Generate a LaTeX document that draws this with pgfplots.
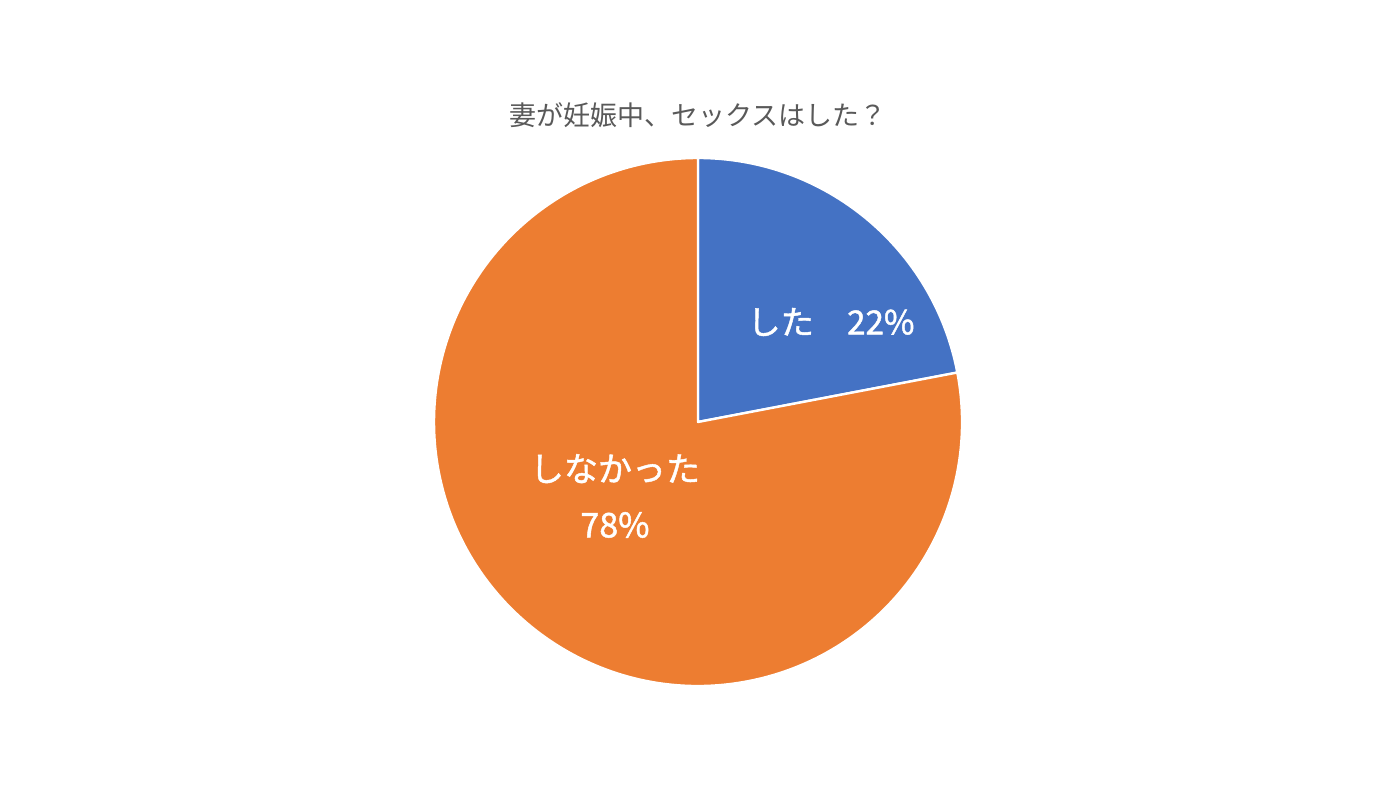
\documentclass[border=0pt]{standalone}
\usepackage{pgfplots}
\pgfplotsset{compat=1.18}
\usepackage{pgfplotstable}
\usepackage{fontspec}
\setmainfont{Noto Sans CJK JP}
\newfontfamily\cjk{Noto Sans CJK JP}
\newfontfamily\cjkm[FakeBold=1.3]{Noto Sans CJK JP}

\definecolor{sliceblue}{HTML}{4472C4}
\definecolor{sliceorange}{HTML}{ED7D31}
\definecolor{titlegray}{HTML}{595959}

% share of each answer, in percent
\pgfplotstableread{
slice value
1 22
2 78
}\piedata

\pgfplotstablegetelem{0}{value}\of\piedata
\pgfmathsetmacro{\valA}{\pgfplotsretval}
\pgfplotstablegetelem{1}{value}\of\piedata
\pgfmathsetmacro{\valB}{\pgfplotsretval}
% slices start at 12 o'clock and run clockwise
\pgfmathsetmacro{\angA}{90-3.6*\valA}
\pgfmathsetmacro{\angB}{\angA-3.6*\valB}

\begin{document}
\begin{tikzpicture}
\begin{axis}[
    x=0.5pt, y=0.5pt,
    xmin=0, xmax=1396,
    ymin=0, ymax=786,
    hide axis,
    clip=false,
    /pgf/number format/assume math mode=true,
]
\path (axis cs:0,0) rectangle (axis cs:1396,786);

\filldraw[fill=sliceblue, draw=white, line width=1.2pt, line join=round]
    (axis cs:698,364) -- ++(90:132pt)
    arc[start angle=90, end angle=\angA, radius=132pt] -- cycle;
\filldraw[fill=sliceorange, draw=white, line width=1.2pt, line join=round]
    (axis cs:698,364) -- ++(\angA:132pt)
    arc[start angle=\angA, end angle=\angB, radius=132pt] -- cycle;

\node[text=titlegray, font=\cjk\fontsize{13.5}{16}\selectfont]
    at (axis cs:698,671) {妻が妊娠中、セックスはした？};

\node[text=white, font=\cjkm\fontsize{16.6}{19}\selectfont]
    at (axis cs:831,464) {した　\pgfmathprintnumber{\valA}\%};
\node[text=white, font=\cjkm\fontsize{17}{20}\selectfont, align=center]
    at (axis cs:615,290) {しなかった\\[8pt]\pgfmathprintnumber{\valB}\%};
\end{axis}
\end{tikzpicture}
\end{document}
